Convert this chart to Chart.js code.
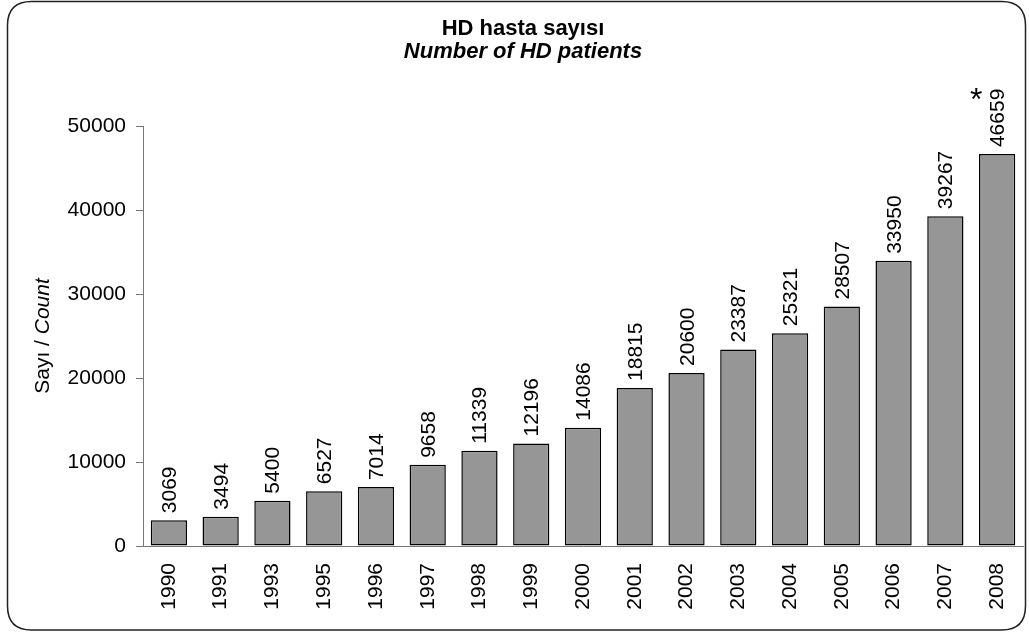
<!DOCTYPE html>
<html>
<head>
<meta charset="utf-8">
<script src="https://cdn.jsdelivr.net/npm/chart.js@4.4.1/dist/chart.umd.min.js"></script>
<style>
html,body{margin:0;padding:0;background:#fff;}
canvas{display:block;}
</style>
</head>
<body>
<canvas id="c" width="1029" height="634"></canvas>
<script>
const years = ['1990','1991','1993','1995','1996','1997','1998','1999','2000','2001','2002','2003','2004','2005','2006','2007','2008'];
const counts = [3069,3494,5400,6527,7014,9658,11339,12196,14086,18815,20600,23387,25321,28507,33950,39267,46659];
const titleLine1 = 'HD hasta sayısı';
const titleLine2 = 'Number of HD patients';
const yTitleRegular = 'Sayı / ';
const yTitleItalic = 'Count';
const yMin = 0, yMax = 50000, yStep = 10000;

const FONT = '"Liberation Sans", Arial, sans-serif';

const decorPlugin = {
  id: 'decor',
  beforeDraw(chart) {
    const ctx = chart.ctx;
    ctx.save();
    ctx.fillStyle = '#fff';
    ctx.fillRect(0, 0, chart.width, chart.height);
    const x0 = 7.5, y0 = 1.5, x1 = 1025.5, y1 = 630, r = 24;
    ctx.beginPath();
    ctx.moveTo(x0 + r, y0);
    ctx.lineTo(x1 - r, y0);
    ctx.quadraticCurveTo(x1, y0, x1, y0 + r);
    ctx.lineTo(x1, y1 - r);
    ctx.quadraticCurveTo(x1, y1, x1 - r, y1);
    ctx.lineTo(x0 + r, y1);
    ctx.quadraticCurveTo(x0, y1, x0, y1 - r);
    ctx.lineTo(x0, y0 + r);
    ctx.quadraticCurveTo(x0, y0, x0 + r, y0);
    ctx.closePath();
    ctx.lineWidth = 1.5;
    ctx.strokeStyle = '#222';
    ctx.stroke();
    ctx.restore();
  },
  afterDraw(chart) {
    const ctx = chart.ctx;
    ctx.save();
    ctx.fillStyle = '#000';
    ctx.textAlign = 'center';
    ctx.textBaseline = 'alphabetic';
    ctx.font = 'bold 22px ' + FONT;
    ctx.fillText(titleLine1, 523, 35);
    ctx.font = 'italic bold 22px ' + FONT;
    ctx.fillText(titleLine2, 523, 58);
    ctx.translate(49, 336);
    ctx.rotate(-Math.PI / 2);
    ctx.textAlign = 'left';
    ctx.font = '21px ' + FONT;
    const w1 = ctx.measureText(yTitleRegular).width;
    ctx.font = 'italic 21px ' + FONT;
    const w2 = ctx.measureText(yTitleItalic).width;
    const sx = -(w1 + w2) / 2;
    ctx.font = '21px ' + FONT;
    ctx.fillText(yTitleRegular, sx, 0);
    ctx.font = 'italic 21px ' + FONT;
    ctx.fillText(yTitleItalic, sx + w1, 0);
    ctx.restore();
  },
  afterDatasetsDraw(chart) {
    const ctx = chart.ctx;
    const meta = chart.getDatasetMeta(0);
    ctx.save();
    ctx.fillStyle = '#000';
    ctx.font = '21px ' + FONT;
    ctx.textAlign = 'left';
    ctx.textBaseline = 'alphabetic';
    meta.data.forEach((bar, i) => {
      const txt = String(counts[i]);
      const w = ctx.measureText(txt).width;
      ctx.save();
      ctx.translate(bar.x + 7, bar.y - 7);
      ctx.rotate(-Math.PI / 2);
      ctx.fillText(txt, 0, 0);
      ctx.restore();
      if (i === counts.length - 1) {
        const top = bar.y - 7 - w;
        ctx.save();
        ctx.font = '32px ' + FONT;
        ctx.textAlign = 'center';
        ctx.fillText('*', bar.x - 21, top + 21);
        ctx.restore();
      }
    });
    ctx.restore();
  }
};

new Chart(document.getElementById('c'), {
  type: 'bar',
  data: {
    labels: years,
    datasets: [{
      data: counts,
      backgroundColor: '#969696',
      borderColor: '#000',
      borderWidth: 1.5,
      borderSkipped: false,
      categoryPercentage: 1,
      barPercentage: 0.7
    }]
  },
  options: {
    responsive: false,
    devicePixelRatio: 1,
    animation: false,
    layout: { padding: { left: 0, right: 6, top: 126, bottom: 0 } },
    plugins: {
      legend: { display: false },
      title: { display: false },
      tooltip: { enabled: false }
    },
    scales: {
      x: {
        grid: { display: false, drawTicks: false },
        border: { display: true, color: '#777', width: 1 },
        ticks: {
          minRotation: 90, maxRotation: 90, padding: 17,
          color: '#000', font: { family: FONT, size: 21 }
        },
        afterFit(s) { s.height = 88; s.paddingLeft = 0; s.paddingRight = 0; }
      },
      y: {
        min: yMin, max: yMax,
        grid: { drawOnChartArea: false, drawTicks: true, tickLength: 7, color: '#777' },
        border: { display: true, color: '#777', width: 1 },
        ticks: {
          stepSize: yStep, padding: 10, color: '#000',
          font: { family: FONT, size: 21 },
          callback: v => String(v)
        },
        afterFit(s) { s.width = 143; s.paddingTop = 0; s.paddingBottom = 0; }
      }
    }
  },
  plugins: [decorPlugin]
});
</script>
</body>
</html>
